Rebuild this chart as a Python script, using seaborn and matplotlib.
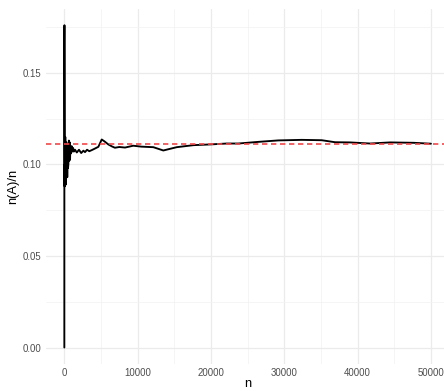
import numpy as np
import pandas as pd
import matplotlib
matplotlib.use("Agg")
import matplotlib.pyplot as plt
import seaborn as sns
from matplotlib.ticker import MultipleLocator

# ================================
# Data
# ================================
n_trials = [1, 6, 17, 30, 50, 70, 100, 130, 160, 200, 240, 280, 320, 360, 400,
            450, 500, 550, 620, 680, 750, 780, 820, 900, 1000, 1100, 1200, 1300,
            1460, 1700, 2000, 2300, 2600, 2820, 3100, 3400, 3740, 4100, 4640,
            5100, 5500, 6000, 6500, 6900, 7500, 8280, 9400, 10500, 12140, 13500,
            15330, 17600, 19870, 22150, 23740, 26460, 29190, 32380, 35110,
            36930, 38970, 41700, 44420, 47600, 50000]
prop_A = [0.0, 0.167, 0.176, 0.133, 0.088, 0.100, 0.090, 0.115, 0.105, 0.089,
          0.100, 0.112, 0.095, 0.108, 0.093, 0.110, 0.098, 0.100, 0.113, 0.102,
          0.112, 0.1027, 0.109, 0.106, 0.110, 0.107, 0.109, 0.107, 0.108, 0.1065,
          0.108, 0.1062, 0.1075, 0.1067, 0.108, 0.1072, 0.1078, 0.1085, 0.1096,
          0.1136, 0.1125, 0.1109, 0.1098, 0.1091, 0.1095, 0.1092, 0.1102, 0.1097,
          0.1094, 0.1076, 0.1094, 0.1105, 0.1109, 0.1114, 0.1114, 0.1123,
          0.1131, 0.1134, 0.1132, 0.1121, 0.1120, 0.1114, 0.1120, 0.1118, 0.1113]
true_prob = 0.1111

df = pd.DataFrame({"n": n_trials, "p": prop_A})

# ================================
# Plot
# ================================
sns.set_theme(style="white")
plt.rcParams["font.family"] = ["Liberation Sans", "DejaVu Sans"]

fig = plt.figure(figsize=(4.44, 3.91), dpi=100)
ax = fig.add_axes([0.1036, 0.07, 0.9083, 0.9067])

sns.lineplot(data=df, x="n", y="p", color="black", lw=1.35,
             estimator=None, sort=False, ax=ax)
ax.axhline(true_prob, color="#f0484b", lw=1.2, ls=(0, (3.2, 2.2)))

ax.set_xlim(-2500, 52500)
ax.set_ylim(-0.0088, 0.1848)
ax.xaxis.set_minor_locator(MultipleLocator(5000))
ax.yaxis.set_minor_locator(MultipleLocator(0.025))
ax.set_yticks([0, 0.05, 0.10, 0.15])
ax.set_yticklabels(["0.00", "0.05", "0.10", "0.15"])
ax.set_xticks([0, 10000, 20000, 30000, 40000, 50000])
ax.set_xticklabels(["0", "10000", "20000", "30000", "40000", "50000"])

ax.grid(True, which="major", color="#ebebeb", lw=0.9)
ax.grid(True, which="minor", color="#f2f2f2", lw=0.5)
ax.set_axisbelow(True)
for s in ax.spines.values():
    s.set_visible(False)
ax.tick_params(which="both", length=0, labelsize=6.9, labelcolor="#4d4d4d")
ax.tick_params(axis="y", pad=3.5)
ax.tick_params(axis="x", pad=3.5)

ax.set_xlabel("n", fontsize=9.3, color="black", labelpad=0)
ax.set_ylabel("n(A)/n", fontsize=9.3, color="black", labelpad=2)

fig.savefig("out.png", dpi=100)
